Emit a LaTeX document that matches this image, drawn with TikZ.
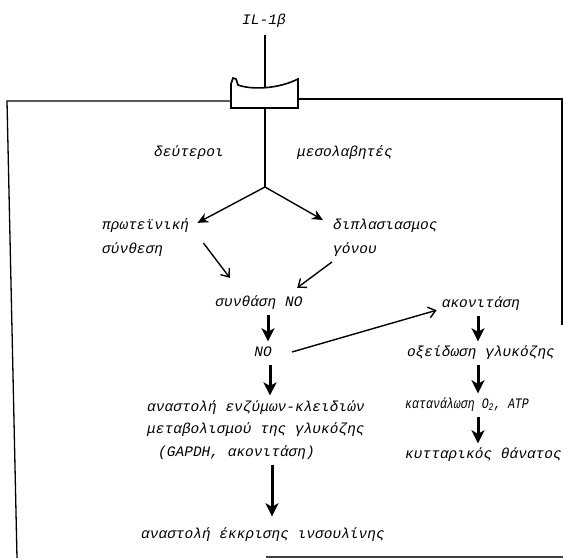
\documentclass[tikz,border=0pt]{standalone}
\usepackage{fontspec}
\setmonofont{Liberation Mono}
\usetikzlibrary{arrows.meta}
\tikzset{
  lbl/.style={font=\fontsize{14.5}{24}\selectfont\ttfamily\itshape, inner sep=2pt},
  one/.style={lbl, text height=10pt, text depth=3pt},
  stem/.style={line width=2.8pt},
  membrane/.style={line width=1.3pt},
  thinarrow/.style={line width=1.4pt, -{Stealth[length=11pt,width=10pt]}},
  barbarrow/.style={line width=1.4pt, -{Straight Barb[length=7pt,width=11pt]}},
  thickarrow/.style={line width=3pt, shorten <=3pt, shorten >=3pt,
     -{Stealth[length=13pt,width=13pt,inset=3.5pt]}},
}
\begin{document}
\begin{tikzpicture}[x=1pt,y=-1pt]
\useasboundingbox (0,0) rectangle (563,558);
\fill[white] (0,0) rectangle (563,558);

% cell outline
\draw[membrane] (240,101) -- (7,101) -- (17,558);
\draw[membrane] (290,99) -- (562,99) -- (562,325);
\draw[line width=1.5pt, black!75] (266,557) -- (563,557);

% labels
\node[one] (il) at (264,21) {IL-1β};
\node[one] (deut) at (189,153) {δεύτεροι};
\node[one] (meso) at (345,153) {μεσολαβητές};
\coordinate (split) at (265,187);

\node[lbl, anchor=west, align=left] (prot) at (100,238) {πρωτεϊνική\\σύνθεση};
\node[lbl, anchor=west, align=left] (dipl) at (331,238) {διπλασιασμος\\γόνου};
\node[one] (synth) at (259,303) {συνθάση NO};
\node[one] (no) at (263,353) {NO};
\node[one] (acon) at (481,304) {ακονιτάση};
\node[one] (oxid) at (481,353) {οξείδωση γλυκόζης};
\node[one, anchor=west, font=\fontsize{14.5}{24}\selectfont\ttfamily\itshape\addfontfeature{FakeStretch=0.8}] (katan) at (403,405) {κατανάλωση O\textsubscript{2}, ATP};
\node[one, anchor=west] (kyt) at (403,455) {κυτταρικός θάνατος};
\node[lbl, font=\fontsize{14.5}{22.5}\selectfont\ttfamily\itshape, anchor=west, align=left] (anast) at (145,430)
  {αναστολή ενζύμων-κλειδιών\\μεταβολισμού της γλυκόζης\\\hspace*{11pt}(GAPDH, ακονιτάση)};
\node[one] (insul) at (263,535) {αναστολή έκκρισης ινσουλίνης};

% stem and receptor
\draw[stem, shorten <=5pt] (split |- il.south) -- (split);
\draw[line width=1.6pt, fill=white] (231,108) -- (231,84) -- (233,78) -- (236,79) -- (238,85)
   .. controls (252,90) and (278,89) .. (298,79) -- (298,108) -- cycle;

% connectors
\draw[thinarrow] (split) -- ([shift={(6,6)}]prot.north east);
\draw[thinarrow] (split) -- ([shift={(-8,3)}]dipl.north west);
\draw[barbarrow] ([shift={(12,5)}]prot.east) -- ([shift={(16.5,-16.5)}]synth.north west);
\draw[barbarrow] ([shift={(1,3)}]dipl.south west) -- ([shift={(-7.5,-6.5)}]synth.north east);
\draw[thickarrow] ([xshift=5pt]no.north |- synth.south) -- ([xshift=5pt]no.north);
\draw[barbarrow] ([shift={(18,-1)}]no.east) -- ([shift={(-3,-2.5)}]acon.south west);
\draw[thickarrow] ([xshift=-3pt]acon.south) -- ([xshift=-3pt]acon.south |- oxid.north);
\draw[thickarrow] ([xshift=-3pt]oxid.south) -- ([xshift=-3pt]oxid.south |- katan.north);
\draw[thickarrow] ([xshift=-3pt]oxid.south |- katan.south) -- ([xshift=-3pt]oxid.south |- kyt.north);
\draw[thickarrow] ([xshift=7pt]no.south) -- ([xshift=7pt]no.south |- anast.north);
\draw[thickarrow, shorten >=10pt] ([xshift=9pt]insul.north |- anast.south) -- ([xshift=9pt]insul.north);
\end{tikzpicture}
\end{document}
